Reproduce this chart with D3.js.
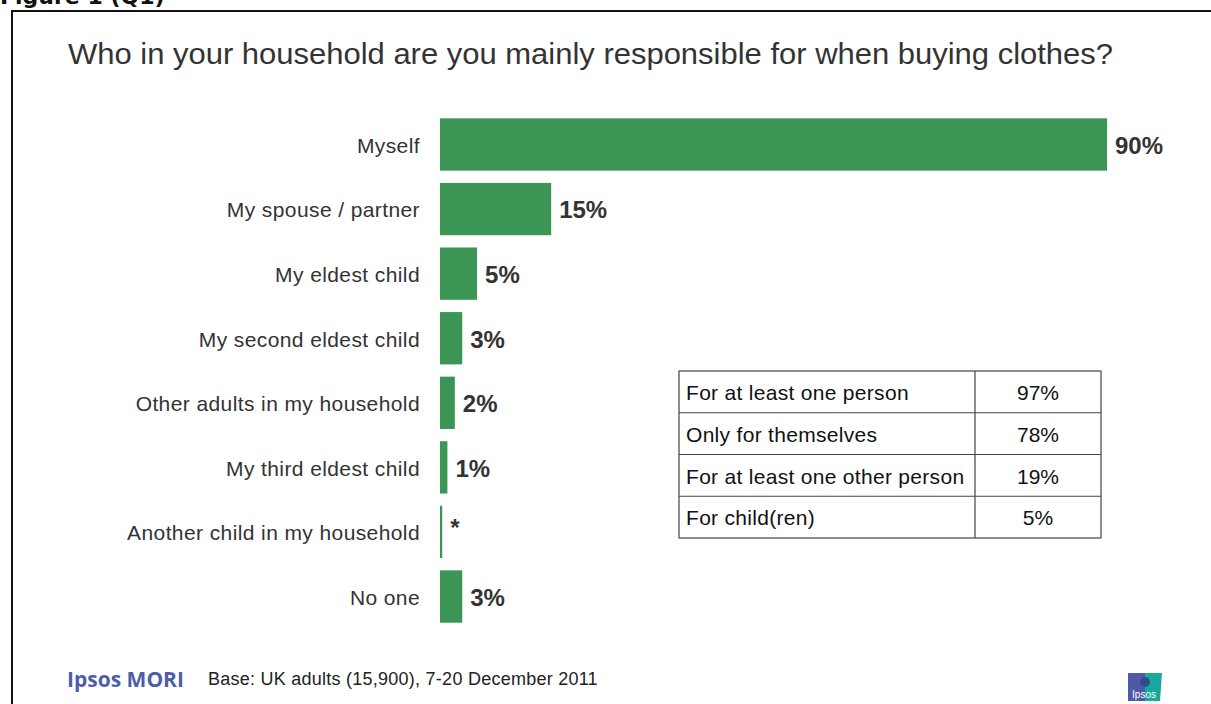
<!DOCTYPE html>
<html>
<head>
<meta charset="utf-8">
<script src="https://cdn.jsdelivr.net/npm/d3@7"></script>
<style>
  html, body { margin: 0; padding: 0; background: #fff; }
  svg { display: block; font-family: "Liberation Sans", Arial, sans-serif; }
</style>
</head>
<body>
<svg id="chart" width="1211" height="704"></svg>
<script>
// Who each respondent buys clothes for (percent of UK adults)
const categories = [
  "Myself",
  "My spouse / partner",
  "My eldest child",
  "My second eldest child",
  "Other adults in my household",
  "My third eldest child",
  "Another child in my household",
  "No one"
];
const values = [90, 15, 5, 3, 2, 1, 0.3, 3];
const valueLabels = ["90%", "15%", "5%", "3%", "2%", "1%", "*", "3%"];

// Summary table
const summaryRows = [
  "For at least one person",
  "Only for themselves",
  "For at least one other person",
  "For child(ren)"
];
const summaryValues = ["97%", "78%", "19%", "5%"];

const svg = d3.select("#chart");
const textColor = "#333333";
const barColor = "#3b9555";

// Figure caption (partly off the top edge) and frame
svg.append("text")
  .attr("x", 0).attr("y", 4)
  .attr("font-family", "DejaVu Sans, sans-serif")
  .attr("font-weight", "bold")
  .attr("font-size", 22)
  .attr("fill", "#111")
  .text("Figure 1 (Q1)");

svg.append("path")
  .attr("d", "M12,704 V11 H1215")
  .attr("fill", "none")
  .attr("stroke", "#111")
  .attr("stroke-width", 2);

// Title
svg.append("text")
  .attr("x", 68).attr("y", 64)
  .attr("font-size", 29)
  .attr("textLength", 1045)
  .attr("lengthAdjust", "spacingAndGlyphs")
  .attr("fill", textColor)
  .text("Who in your household are you mainly responsible for when buying clothes?");

// Scales
const x = d3.scaleLinear().domain([0, 90]).range([440, 1107]);
const y = d3.scaleBand()
  .domain(categories)
  .range([112.2, 628.8])
  .paddingInner(0.19)
  .paddingOuter(0.095);

const rows = svg.append("g").selectAll("g")
  .data(categories.map((c, i) => ({ c, v: values[i], l: valueLabels[i] })))
  .join("g");

rows.append("rect")
  .attr("x", x(0))
  .attr("y", d => y(d.c))
  .attr("width", d => Math.max(x(d.v) - x(0), 1))
  .attr("height", y.bandwidth())
  .attr("fill", barColor);

rows.append("text")
  .attr("x", x(0) - 20)
  .attr("y", d => y(d.c) + y.bandwidth() / 2 + 1)
  .attr("dy", "0.35em")
  .attr("text-anchor", "end")
  .attr("font-size", 21)
  .attr("letter-spacing", 0.4)
  .attr("fill", textColor)
  .text(d => d.c);

rows.append("text")
  .attr("x", d => x(d.v) + 8)
  .attr("y", d => y(d.c) + y.bandwidth() / 2 + 1 + (d.l === "*" ? -5 : 0))
  .attr("dy", "0.35em")
  .attr("font-size", 24)
  .attr("font-weight", "bold")
  .attr("fill", textColor)
  .text(d => d.l);

// Summary table
const tx0 = 679, tx1 = 975, tx2 = 1101;
const ty = d3.scaleBand().domain(summaryRows).range([371, 538]);
const table = svg.append("g");
table.append("rect")
  .attr("x", tx0).attr("y", 371)
  .attr("width", tx2 - tx0).attr("height", 538 - 371)
  .attr("fill", "#fff").attr("stroke", "#444").attr("stroke-width", 1.2);
table.append("line")
  .attr("x1", tx1).attr("x2", tx1).attr("y1", 371).attr("y2", 538)
  .attr("stroke", "#444").attr("stroke-width", 1.2);
table.selectAll("line.sep")
  .data(summaryRows.slice(1))
  .join("line")
  .attr("class", "sep")
  .attr("x1", tx0).attr("x2", tx2)
  .attr("y1", d => ty(d)).attr("y2", d => ty(d))
  .attr("stroke", "#444").attr("stroke-width", 1.2);
table.selectAll("text.lab")
  .data(summaryRows)
  .join("text")
  .attr("class", "lab")
  .attr("x", tx0 + 7)
  .attr("y", d => ty(d) + ty.bandwidth() / 2 + 1)
  .attr("dy", "0.35em")
  .attr("font-size", 21)
  .attr("letter-spacing", 0.3)
  .attr("fill", "#111")
  .text(d => d);
table.selectAll("text.val")
  .data(summaryRows.map((r, i) => ({ r, v: summaryValues[i] })))
  .join("text")
  .attr("class", "val")
  .attr("x", (tx1 + tx2) / 2)
  .attr("y", d => ty(d.r) + ty.bandwidth() / 2 + 1)
  .attr("dy", "0.35em")
  .attr("text-anchor", "middle")
  .attr("font-size", 21)
  .attr("fill", "#111")
  .text(d => d.v);

// Footer
svg.append("text")
  .attr("x", 67).attr("y", 687)
  .attr("font-family", "Open Sans, sans-serif")
  .attr("font-weight", "bold")
  .attr("font-size", 21)
  .attr("fill", "#4d5ea8")
  .text("Ipsos MORI");

svg.append("text")
  .attr("x", 208).attr("y", 685)
  .attr("font-size", 18)
  .attr("letter-spacing", 0.25)
  .attr("fill", "#222")
  .text("Base: UK adults (15,900), 7-20 December 2011");

// Brand mark
const logo = svg.append("g").attr("transform", "translate(1128,671)");
logo.append("path")
  .attr("d", "M0,2 H17 V30 H0 Z")
  .attr("fill", "#5058a8");
logo.append("path")
  .attr("d", "M17,2 H34 L32,30 H17 Z")
  .attr("fill", "#18a89c");
logo.append("circle")
  .attr("cx", 17).attr("cy", 11).attr("r", 5)
  .attr("fill", "#2f4f8a");
logo.append("text")
  .attr("x", 16).attr("y", 27)
  .attr("text-anchor", "middle")
  .attr("font-size", 10)
  .attr("fill", "#fff")
  .text("Ipsos");
</script>
</body>
</html>
